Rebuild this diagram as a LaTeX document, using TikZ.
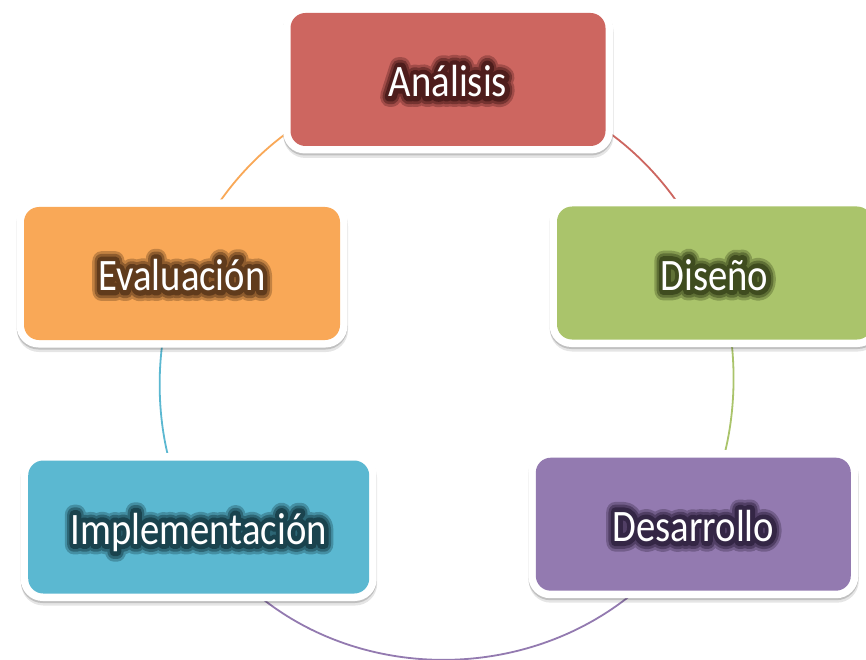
\documentclass[tikz,border=0pt]{standalone}
\usepackage{fontspec}
\usepackage{graphicx}
\usetikzlibrary{shadows,backgrounds}
\newfontfamily\boxfont{Carlito}
\newfontfamily\glowA[FakeBold=46]{Carlito}
\newfontfamily\glowB[FakeBold=34]{Carlito}
\newfontfamily\glowC[FakeBold=22]{Carlito}
\definecolor{cA}{HTML}{CD6660}
\definecolor{gA}{HTML}{4E1D1C}
\definecolor{cD}{HTML}{AAC46B}
\definecolor{gD}{HTML}{3F4C1F}
\definecolor{cS}{HTML}{937AB0}
\definecolor{gS}{HTML}{342645}
\definecolor{cI}{HTML}{5BB8D1}
\definecolor{gI}{HTML}{1A434E}
\definecolor{cE}{HTML}{F9A857}
\definecolor{gE}{HTML}{603B1C}
\newcommand{\glowtext}[3]{\scalebox{0.86}[1]{\rlap{\glowA\textcolor{#1!35!#2}{#3}}\rlap{\glowB\textcolor{#1!70!#2}{#3}}\rlap{\glowC\textcolor{#1}{#3}}\textcolor{white}{#3}}}
\begin{document}
\begin{tikzpicture}[x=1pt,y=-1pt, line join=round, line cap=round,
  boxshadow/.style={general shadow={shadow yshift=-2pt, fill=black, opacity=0.16},
                    general shadow={shadow xshift=0.5pt, shadow yshift=-4.5pt, fill=black, opacity=0.10}},
  cyclebox/.style={rounded corners=22pt, fill=white, minimum height=148pt, inner sep=0pt,
    line join=round, text height=40pt, text depth=6pt, font=\boxfont\fontsize{45}{54}\selectfont, boxshadow,
    path picture={\fill[#1, rounded corners=15pt] ([shift={(7.5pt,7.5pt)}]path picture bounding box.south west) rectangle ([shift={(-7.5pt,-7.5pt)}]path picture bounding box.north east);}},
  cycleconn/.style={line width=1.8pt}]
\useasboundingbox (0,0) rectangle (866,660);
\node[cyclebox=cA, minimum width=330pt] (ana) at (448,79.5) {\glowtext{gA}{cA}{Análisis}};
\node[cyclebox=cD, minimum width=330pt] (dis) at (714.5,273) {\glowtext{gD}{cD}{Diseño}};
\node[cyclebox=cS, minimum width=330pt] (des) at (693.3,524.2) {\glowtext{gS}{cS}{Desarrollo}};
\node[cyclebox=cI, minimum width=356pt] (imp) at (198.7,527) {\glowtext{gI}{cI}{Implementación}};
\node[cyclebox=cE, minimum width=331pt] (eva) at (182,273.5) {\glowtext{gE}{cE}{Evaluación}};
\begin{pgfonlayer}{background}
\fill[white] (0,0) rectangle (866,660);
\draw[cycleconn, cA] (ana.center) .. controls +(119,0) and +(-43,-115) .. (dis.center);
\draw[cycleconn, cD] (dis.center) .. controls +(28.5,67) and +(49,-68) .. (des.center);
\draw[cycleconn, cS] (des.center) .. controls +(-111,179) and +(110,179) .. (imp.center);
\draw[cycleconn, cI] (imp.center) .. controls +(-49,-71) and +(-32,66.5) .. (eva.center);
\draw[cycleconn, cE] (eva.center) .. controls +(43,-115.5) and +(-119,0) .. (ana.center);
\end{pgfonlayer}
\end{tikzpicture}
\end{document}
